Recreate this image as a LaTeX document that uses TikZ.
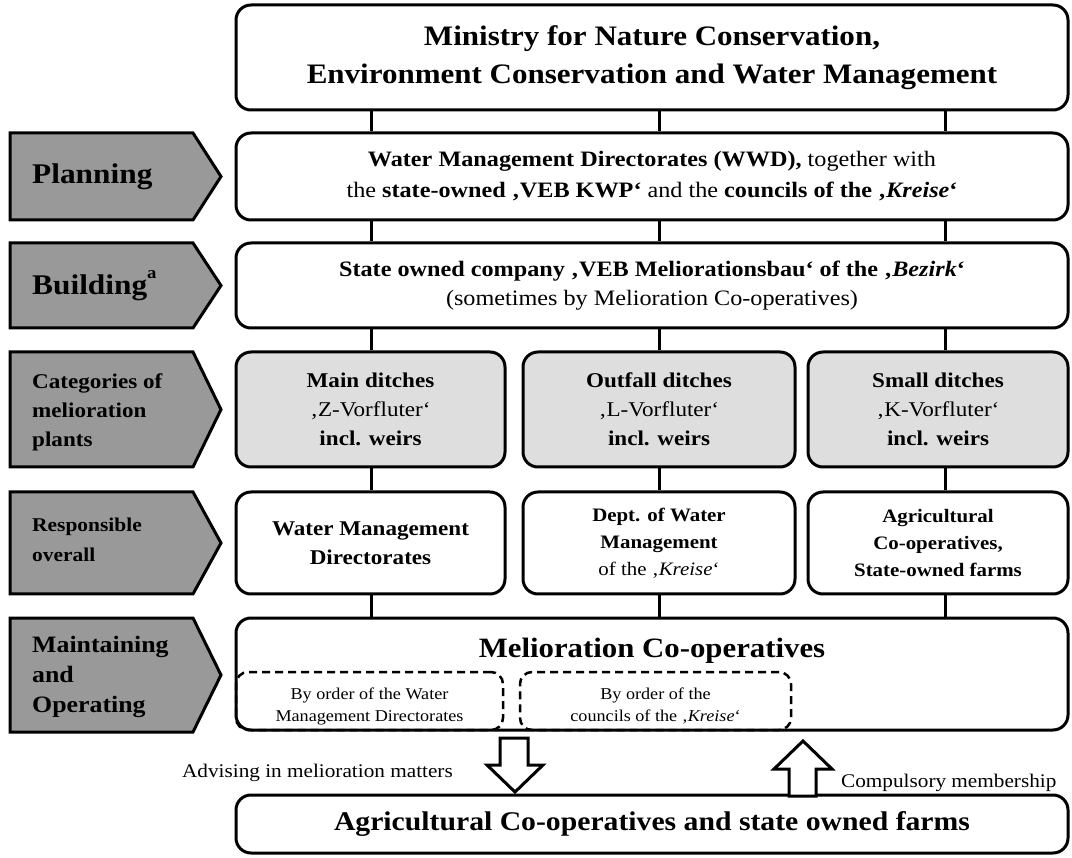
\documentclass[tikz,border=0pt]{standalone}
\usepackage{fontspec}
\setmainfont{Liberation Serif}[FakeStretch=1.1]
\begin{document}
\begin{tikzpicture}[x=1pt,y=-1pt,
  box/.style={draw, line width=3pt, rounded corners=15pt, inner sep=0pt, align=center},
  catbox/.style={box, fill=catfill},
  dbox/.style={draw, line width=2.5pt, dash pattern=on 8pt off 5pt, rounded corners=12pt, inner sep=0pt},
  conn/.style={line width=3pt},
  labshape/.style={draw, line width=3pt, fill=labfill, line join=miter},
  labtxt/.style={anchor=west, align=left, inner sep=0pt, font=\bfseries},
  harrow/.style={draw, line width=3pt, fill=white, line join=miter}
]
\definecolor{catfill}{gray}{0.87}
\definecolor{labfill}{gray}{0.6}
\useasboundingbox (0,0) rectangle (1072,858);

\coordinate (c1) at (371,0);
\coordinate (c2) at (659,0);
\coordinate (c3) at (945,0);

% main boxes
\node[box, minimum width=832pt, minimum height=105pt, font=\fontsize{28.2}{37.5}\selectfont\bfseries] (min) at (652,57.5)
  {Ministry for Nature Conservation,\\Environment Conservation and Water Management};
\node[box, minimum width=832pt, minimum height=87pt, font=\fontsize{22}{31}\selectfont] (plan) at (652,176.5)
  {\textbf{Water Management Directorates (WWD),} together with\\the \textbf{state-owned ‚VEB KWP‘} and the \textbf{councils of the ‚\textit{Kreise}‘}};
\node[box, minimum width=832pt, minimum height=85pt, font=\fontsize{22}{29}\selectfont] (build) at (652,285.5)
  {\textbf{State owned company ‚VEB Meliorationsbau‘ of the ‚\textit{Bezirk}‘}\\(sometimes by Melioration Co-operatives)};

\node[catbox, minimum width=269pt, minimum height=115pt, font=\fontsize{21}{29}\selectfont] (cat1) at (370.5,409.5)
  {\textbf{Main ditches}\\‚Z-Vorfluter‘\\\textbf{incl. weirs}};
\node[catbox, minimum width=272pt, minimum height=115pt, font=\fontsize{21}{29}\selectfont] (cat2) at (659,409.5)
  {\textbf{Outfall ditches}\\‚L-Vorfluter‘\\\textbf{incl. weirs}};
\node[catbox, minimum width=260pt, minimum height=115pt, font=\fontsize{21}{29}\selectfont] (cat3) at (938,409.5)
  {\textbf{Small ditches}\\‚K-Vorfluter‘\\\textbf{incl. weirs}};

\node[box, minimum width=269pt, minimum height=102pt, font=\fontsize{21}{29}\selectfont\bfseries] (res1) at (370.5,543)
  {Water Management\\Directorates};
\node[box, minimum width=272pt, minimum height=102pt, font=\fontsize{19}{27}\selectfont] (res2) at (659,543)
  {\textbf{Dept. of Water}\\\textbf{Management}\\of the ‚\textit{Kreise}‘};
\node[box, minimum width=260pt, minimum height=102pt, font=\fontsize{19}{27}\selectfont\bfseries] (res3) at (938,543)
  {Agricultural\\Co-operatives,\\State-owned farms};

\node[box, minimum width=832pt, minimum height=112pt] (meli) at (652,674) {};
\node[inner sep=0pt, font=\fontsize{28}{30}\selectfont\bfseries] (melit) at (652,651) {Melioration Co-operatives};
\node[dbox, minimum width=267pt, minimum height=58pt] (d1) at (369.5,701) {};
\node[dbox, minimum width=271pt, minimum height=58pt] (d2) at (655.5,701) {};
\node[inner sep=0pt, align=center, font=\fontsize{16.5}{22}\selectfont] (d1t) at (369.5,706)
  {By order of the Water\\Management Directorates};
\node[inner sep=0pt, align=center, font=\fontsize{16.5}{22}\selectfont] (d2t) at (655.5,706)
  {By order of the\\councils of the ‚\textit{Kreise}‘};

\node[box, minimum width=832pt, minimum height=58pt, font=\fontsize{27}{30}\selectfont\bfseries] (agri) at (652,824)
  {Agricultural Co-operatives and state owned farms};

% connectors
\foreach \c in {c1,c2,c3}{
  \draw[conn] (min.south -| \c) -- (plan.north -| \c);
  \draw[conn] (plan.south -| \c) -- (build.north -| \c);
}
\draw[conn] (build.south -| c1) -- (cat1.north -| c1);
\draw[conn] (build.south -| c2) -- (cat2.north -| c2);
\draw[conn] (build.south -| c3) -- (cat3.north -| c3);
\draw[conn] (cat1.south -| c1) -- (res1.north -| c1);
\draw[conn] (cat2.south -| c2) -- (res2.north -| c2);
\draw[conn] (cat3.south -| c3) -- (res3.north -| c3);
\draw[conn] (res1.south -| c1) -- (meli.north -| c1);
\draw[conn] (res2.south -| c2) -- (meli.north -| c2);
\draw[conn] (res3.south -| c3) -- (meli.north -| c3);

% left labels
\path[labshape] (10,133) -- (193,133) -- (221,176.5) -- (193,220) -- (10,220) -- cycle;
\node[labtxt, font=\fontsize{28.5}{30}\selectfont\bfseries] (lplan) at (32,176.5) {Planning};
\path[labshape] (10,243) -- (193,243) -- (221,285.5) -- (193,328) -- (10,328) -- cycle;
\node[labtxt, font=\fontsize{28.5}{30}\selectfont\bfseries] (lbuild) at (32,285.5) {Building\raisebox{0.55em}{\fontsize{17}{17}\selectfont a}};
\path[labshape] (10,352) -- (193,352) -- (221,409.5) -- (193,467) -- (10,467) -- cycle;
\node[labtxt, font=\fontsize{21}{29}\selectfont\bfseries] (lcat) at (32,412) {Categories of\\melioration\\plants};
\path[labshape] (10,492) -- (193,492) -- (221,543) -- (193,594) -- (10,594) -- cycle;
\node[labtxt, font=\fontsize{19.5}{30}\selectfont\bfseries] (lres) at (32,540) {Responsible\\overall};
\path[labshape] (10,618) -- (193,618) -- (221,675) -- (193,732) -- (10,732) -- cycle;
\node[labtxt, font=\fontsize{23.5}{30}\selectfont\bfseries] (lmain) at (32,677) {Maintaining\\and\\Operating};

% hollow arrows
\path[harrow] (500,738) -- (528,738) -- (528,765) -- (543,765) -- (515,792) -- (487,765) -- (500,765) -- cycle;
\path[harrow] (789,796) -- (816,796) -- (816,769) -- (832,769) -- (803,741) -- (774,769) -- (789,769) -- cycle;
\node[anchor=east, inner sep=0pt, font=\fontsize{19.3}{22}\selectfont] (adv) at (453,773) {Advising in melioration matters};
\node[anchor=west, inner sep=0pt, font=\fontsize{19.3}{22}\selectfont] (comp) at (841,783) {Compulsory membership};
\end{tikzpicture}
\end{document}
